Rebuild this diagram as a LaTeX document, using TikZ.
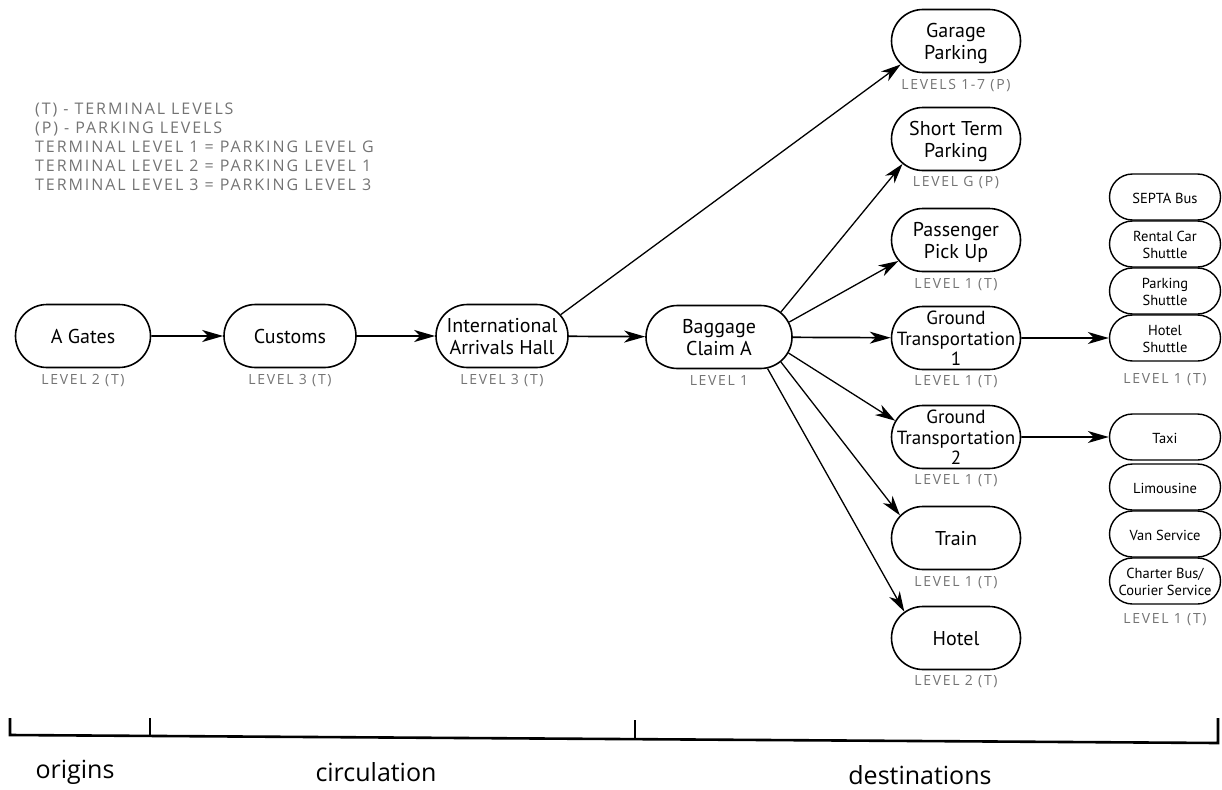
\documentclass[tikz,border=0pt]{standalone}
\usepackage{fontspec}
\setmainfont{PT Sans}
\newfontfamily\lvlfont[LetterSpace=12]{Open Sans}
\newfontfamily\zonefont{Open Sans}
\usetikzlibrary{shapes.misc,arrows.meta,positioning}
% centred lines whose width does not stretch the rounded box,
% nudged down a little without changing the box they report
\newcommand{\boxlines}[1]{\makebox[0pt]{\raisebox{-3pt}[\height][\depth]{\begin{tabular}{@{}c@{}}#1\end{tabular}}}}

\begin{document}
\begin{tikzpicture}[x=1pt,y=-1pt,
  bigbox/.style={rounded rectangle, draw, line width=1.6pt,
    minimum width=132pt, minimum height=63pt, inner sep=0pt,
    font=\fontsize{20}{21.5}\selectfont},
  destbox/.style={bigbox, minimum width=129pt},
  smallbox/.style={rounded rectangle, draw, line width=1.4pt,
    minimum width=111pt, minimum height=46pt, inner sep=0pt,
    font=\fontsize{14.5}{17}\selectfont},
  lvl/.style={inner sep=0pt, text=black!55,
    font=\lvlfont\fontsize{14}{16}\selectfont},
  keytext/.style={inner sep=0pt, text=black!55, align=left,
    font=\lvlfont\fontsize{16}{19}\selectfont},
  zone/.style={inner sep=0pt, font=\zonefont\fontsize{25}{30}\selectfont},
  flow/.style={line width=1.7pt, -{Stealth[length=21pt,width=12pt,inset=6pt]}},
  fan/.style={line width=1.3pt, -{Stealth[length=20pt,width=12pt,inset=6pt]}},
  bracket/.style={line width=2.6pt, line join=miter}
]
\useasboundingbox (0,0) rectangle (1222,789);

% key
\node[keytext, anchor=north west] (key) at (35,103)
  {(T) - TERMINAL LEVELS\\
   (P) - PARKING LEVELS\\
   TERMINAL LEVEL 1 = PARKING LEVEL G\\
   TERMINAL LEVEL 2 = PARKING LEVEL 1\\
   TERMINAL LEVEL 3 = PARKING LEVEL 3};

% main chain
\node[bigbox, minimum width=135pt] (agates) at (83,336)  {\boxlines{A Gates}};
\node[bigbox] (customs) at (290,336) {\boxlines{Customs}};
\node[bigbox] (iah)     at (502,336) {\boxlines{International\\Arrivals Hall}};
\node[bigbox, minimum width=146pt] (bag) at (719,337) {\boxlines{Baggage\\Claim A}};

% destinations
\node[destbox] (garage)    at (956,41)  {\boxlines{Garage\\Parking}};
\node[destbox] (shortterm) at (956,139) {\boxlines{Short Term\\Parking}};
\node[destbox] (pickup)    at (956,240) {\boxlines{Passenger\\Pick Up}};
\node[destbox, font=\fontsize{19}{20.5}\selectfont] (gt1) at (956,338)
  {\boxlines{Ground\\Transportation\\1}};
\node[destbox, font=\fontsize{19}{20.5}\selectfont] (gt2) at (956,437)
  {\boxlines{Ground\\Transportation\\2}};
\node[destbox] (train)     at (956,538) {\boxlines{Train}};
\node[destbox] (hotel)     at (956,638) {\boxlines{Hotel}};

% ground transportation services
\node[smallbox] (septa)    at (1165,197) {\boxlines{SEPTA Bus}};
\node[smallbox] (rental)   at (1165,244) {\boxlines{Rental Car\\Shuttle}};
\node[smallbox] (pshuttle) at (1165,291) {\boxlines{Parking\\Shuttle}};
\node[smallbox] (hshuttle) at (1165,338) {\boxlines{Hotel\\Shuttle}};
\node[smallbox] (taxi)     at (1165,437) {\boxlines{Taxi}};
\node[smallbox] (limo)     at (1165,487) {\boxlines{Limousine}};
\node[smallbox] (van)      at (1165,534) {\boxlines{Van Service}};
\node[smallbox] (charter)  at (1165,581) {\boxlines{Charter Bus/\\Courier Service}};

% level labels
\node[lvl, below=6pt of agates]    (agatesL)    {LEVEL 2 (T)};
\node[lvl, below=6pt of customs]   (customsL)   {LEVEL 3 (T)};
\node[lvl, below=6pt of iah]       (iahL)       {LEVEL 3 (T)};
\node[lvl, below=6pt of bag]       (bagL)       {LEVEL 1};
\node[lvl, below=6pt of garage]    (garageL)    {LEVELS 1-7 (P)};
\node[lvl, below=5pt of shortterm] (shorttermL) {LEVEL G (P)};
\node[lvl, below=6pt of pickup]    (pickupL)    {LEVEL 1 (T)};
\node[lvl, below=5pt of gt1]       (gt1L)       {LEVEL 1 (T)};
\node[lvl, below=5pt of gt2]       (gt2L)       {LEVEL 1 (T)};
\node[lvl, below=6pt of train]     (trainL)     {LEVEL 1 (T)};
\node[lvl, below=5pt of hotel]     (hotelL)     {LEVEL 2 (T)};
\node[lvl, below=12pt of hshuttle] (hshuttleL)  {LEVEL 1 (T)};
\node[lvl, below=9pt of charter]   (charterL)   {LEVEL 1 (T)};

% flow arrows
\draw[flow] (agates) -- (customs);
\draw[flow] (customs) -- (iah);
\draw[flow] (iah) -- (bag);
\draw[fan]  (iah.20) -- (garage.203);
\draw[fan]  (bag.22) -- (shortterm.205);
\draw[fan]  (bag.12) -- (pickup.200);
\draw[flow] (bag) -- (gt1);
\draw[fan]  (bag.-13) -- (gt2.165);
\draw[fan]  (bag.-22) -- (train.158);
\draw[fan]  (bag.-33) -- (hotel.153);
\draw[flow] (gt1) -- (hshuttle);
\draw[flow] (gt2) -- (taxi);

% zone bracket
\coordinate (bl) at (10,735);
\coordinate (br) at (1218,743);
\draw[bracket] (10,718) -- (bl) -- (br) -- (1218,718);
\draw[bracket] (150,718) -- (150,736);
\draw[bracket] (635,720) -- (635,739.2);

\node[zone] (origins)      at (75,772)  {origins};
\node[zone] (circulation)  at (376,772) {circulation};
\node[zone] (destinations) at (920,775) {destinations};
\end{tikzpicture}
\end{document}
